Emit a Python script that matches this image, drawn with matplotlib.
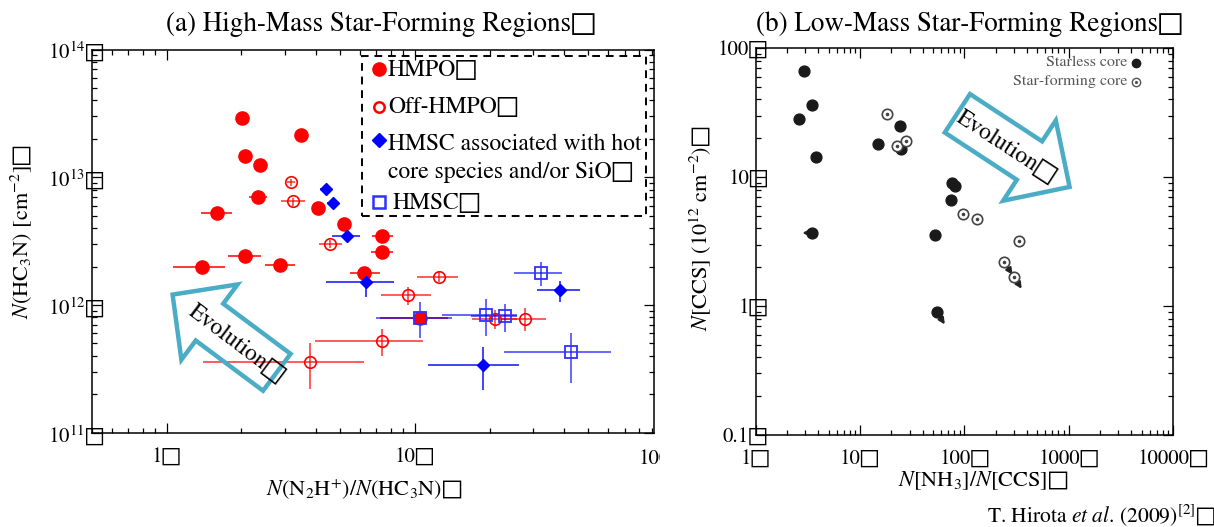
import numpy as np
import matplotlib
matplotlib.use('Agg')
import matplotlib.pyplot as plt
from matplotlib.patches import Polygon, Rectangle
from matplotlib.lines import Line2D
import matplotlib.transforms as mtransforms
from matplotlib.ticker import FixedLocator, FixedFormatter, LogLocator, NullFormatter

plt.rcParams['font.family'] = ['STIXGeneral', 'DejaVu Sans']
plt.rcParams['mathtext.fontset'] = 'stix'

BOX = '\u25a1'

# ---------------- Panel (a) data ----------------
hmpo_x = [2.02, 3.49, 2.07, 2.37, 2.34, 1.60, 4.06, 5.18, 7.39, 7.37, 2.07, 1.39, 2.87, 6.24, 10.5]
hmpo_y = [2.93e13, 2.15e13, 1.46e13, 1.25e13, 6.96e12, 5.25e12, 5.70e12, 4.27e12, 3.48e12, 2.61e12,
          2.42e12, 2.00e12, 2.05e12, 1.77e12, 7.85e11]
hmpo_xlo = [2.02, 3.49, 1.98, 2.37, 2.15, 1.38, 4.06, 5.18, 6.70, 6.63, 1.77, 1.065, 2.48, 5.47, 7.22]
hmpo_xhi = [2.02, 3.49, 2.17, 2.37, 2.54, 1.83, 4.06, 5.18, 8.20, 8.19, 2.39, 1.71, 3.29, 7.23, 13.6]

off_x = [3.16, 3.24, 4.55, 12.5, 9.42, 21.1, 27.8, 7.37, 3.79]
off_y = [9.12e12, 6.47e12, 3.00e12, 1.66e12, 1.19e12, 7.80e11, 7.80e11, 5.25e11, 3.60e11]
off_xlo = [3.05, 2.90, 4.10, 10.2, 7.28, 17.0, 22.4, 3.97, 1.395]
off_xhi = [3.28, 3.60, 5.07, 14.9, 11.6, 25.7, 33.9, 10.8, 6.26]
off_ylo = [8.6e12, 6.0e12, 2.8e12, 1.50e12, 9.97e11, 6.46e11, 6.3e11, 3.98e11, 2.19e11]
off_yhi = [9.6e12, 6.9e12, 3.2e12, 1.85e12, 1.39e12, 9.2e11, 9.4e11, 6.46e11, 5.00e11]

hot_x = [4.39, 4.66, 5.32, 6.36, 38.6, 18.8]
hot_y = [8.04e12, 6.28e12, 3.47e12, 1.50e12, 1.31e12, 3.38e11]
hot_xlo = [4.15, 4.42, 4.62, 4.40, 31.1, 11.3]
hot_xhi = [4.65, 4.95, 6.03, 8.26, 46.3, 26.3]
hot_ylo = [8.04e12, 6.28e12, 3.47e12, 1.15e12, 1.06e12, 2.15e11]
hot_yhi = [8.04e12, 6.28e12, 3.47e12, 1.87e12, 1.54e12, 4.66e11]

hmsc_x = [10.5, 19.4, 23.0, 32.1, 42.5]
hmsc_y = [7.90e11, 8.37e11, 8.15e11, 1.78e12, 4.28e11]
hmsc_xlo = [6.95, 12.9, 16.9, 25.2, 22.9]
hmsc_xhi = [14.1, 25.7, 25.7, 39.1, 62.0]
hmsc_ylo = [5.47e11, 5.70e11, 6.17e11, 1.41e12, 2.46e11]
hmsc_yhi = [1.05e12, 1.11e12, 1.02e12, 2.16e12, 6.05e11]

a_xticks = [1, 10]
a_xticklabels = ['1' + BOX, '10' + BOX]
a_yticks = [1e11, 1e12, 1e13, 1e14]
a_yticklabels = ['$10^{11}$' + BOX, '$10^{12}$' + BOX, '$10^{13}$' + BOX, '$10^{14}$' + BOX]
a_legend = ['HMPO' + BOX, 'Off-HMPO' + BOX, 'HMSC associated with hot\ncore species and/or SiO' + BOX,
            'HMSC' + BOX]

# ---------------- Panel (b) data ----------------
starless_x = [2.88, 3.50, 2.60, 3.82, 14.95, 24.4, 24.9, 76.5, 81.5, 74.1, 52.0, 3.50, 54.5]
starless_y = [66.0, 36.0, 28.0, 14.4, 17.9, 24.9, 16.5, 8.92, 8.6, 6.6, 3.58, 3.69, 0.898]
starform_x = [18.1, 22.7, 27.4, 96.9, 133.0, 332.0, 240.0, 299.0]
starform_y = [31.0, 17.3, 18.9, 5.13, 4.69, 3.19, 2.20, 1.69]
lim_x0 = [3.50, 54.5, 240.0, 299.0]
lim_y0 = [3.69, 0.898, 2.20, 1.69]
lim_x1 = [2.80, 65.0, 290.0, 355.0]
lim_y1 = [3.69, 0.72, 1.75, 1.36]

b_xticks = [1, 10, 100, 1000, 10000]
b_xticklabels = ['1' + BOX, '10' + BOX, '100' + BOX, '1000' + BOX, '10000' + BOX]
b_yticks = [0.1, 1, 10, 100]
b_yticklabels = ['0.1' + BOX, '1' + BOX, '10' + BOX, '100' + BOX]

W, H = 1214, 527
fig = plt.figure(figsize=(W / 100, H / 100), dpi=100)
ident = mtransforms.IdentityTransform()

def ax_rect(x0, x1, ytop, ybot):
    return [x0 / W, 1 - ybot / H, (x1 - x0) / W, (ybot - ytop) / H]

axa = fig.add_axes(ax_rect(92, 654, 49.5, 432.7))
axb = fig.add_axes(ax_rect(755.7, 1172.9, 48.1, 435.0))

RED = '#ff0000'
BLUE = '#0000ff'
TICK_FS = 15

def style(ax):
    ax.set_xscale('log')
    ax.set_yscale('log')
    for s in ax.spines.values():
        s.set_linewidth(1.1)
    ax.tick_params(which='both', direction='in', top=True, right=True, width=0.9)
    ax.tick_params(which='major', length=7, labelsize=TICK_FS)
    ax.tick_params(which='minor', length=3.5)
    ax.tick_params(axis='x', which='major', pad=11)
    ax.tick_params(axis='y', which='major', pad=-9)

# ---- panel (a) ----
style(axa)

def err(x, lo, hi):
    x = np.asarray(x); lo = np.asarray(lo); hi = np.asarray(hi)
    return np.vstack([x - lo, hi - x])

axa.errorbar(hmpo_x, hmpo_y, xerr=err(hmpo_x, hmpo_xlo, hmpo_xhi), fmt='none',
             ecolor=RED, elinewidth=1.3, capsize=0, alpha=0.85, zorder=2)
axa.errorbar(off_x, off_y, xerr=err(off_x, off_xlo, off_xhi), yerr=err(off_y, off_ylo, off_yhi),
             fmt='none', ecolor=RED, elinewidth=1.2, capsize=0, alpha=0.75, zorder=2)
axa.errorbar(hot_x, hot_y, xerr=err(hot_x, hot_xlo, hot_xhi), yerr=err(hot_y, hot_ylo, hot_yhi),
             fmt='none', ecolor=BLUE, elinewidth=1.3, capsize=0, alpha=0.8, zorder=2)
axa.errorbar(hmsc_x, hmsc_y, xerr=err(hmsc_x, hmsc_xlo, hmsc_xhi), yerr=err(hmsc_y, hmsc_ylo, hmsc_yhi),
             fmt='none', ecolor=BLUE, elinewidth=1.2, capsize=0, alpha=0.7, zorder=2)

axa.plot(hmpo_x, hmpo_y, 'o', ms=9.5, mfc=RED, mec=RED, ls='none', zorder=3)
axa.plot(off_x, off_y, 'o', ms=8.3, mfc='none', mec=RED, mew=1.2, ls='none', zorder=3)
axa.plot(hot_x, hot_y, 'D', ms=6.5, mfc=BLUE, mec=BLUE, ls='none', zorder=4)
axa.plot(hmsc_x, hmsc_y, 's', ms=8.5, mfc='none', mec='#3030ff', mew=1.3, ls='none', zorder=5)

axa.set_xlim(0.5, 92)
axa.set_ylim(1e11, 1e14)
axa.xaxis.set_major_locator(FixedLocator(a_xticks))
axa.xaxis.set_major_formatter(FixedFormatter(a_xticklabels))
axa.xaxis.set_minor_locator(LogLocator(base=10, subs=np.arange(2, 10)))
axa.xaxis.set_minor_formatter(NullFormatter())
axa.yaxis.set_major_locator(FixedLocator(a_yticks))
axa.yaxis.set_major_formatter(FixedFormatter(a_yticklabels))
axa.yaxis.set_minor_locator(LogLocator(base=10, subs=np.arange(2, 10)))
axa.yaxis.set_minor_formatter(NullFormatter())

# cut-off '100' label at the right edge of panel (a)
t100 = fig.text(664 / W, 1 - 460 / H, '100' + BOX, fontsize=TICK_FS, ha='center', va='center')
t100.set_clip_box(mtransforms.Bbox([[0, 0], [660, H]]))
t100.set_clip_on(True)

fig.text(381 / W, 1 - 24 / H, '(a) High-Mass Star-Forming Regions' + BOX, fontsize=19.5,
         ha='center', va='center')
fig.text(364 / W, 1 - 490 / H, '$N$(N$_2$H$^{+}$)/$N$(HC$_3$N)' + BOX, fontsize=16,
         ha='center', va='center')
fig.text(21 / W, 1 - 232 / H, '$N$(HC$_3$N) [cm$^{-2}$]' + BOX, fontsize=16, rotation=90,
         ha='center', va='center')

# legend (a)
fig.patches.append(Rectangle((362, H - 215.5), 284, 160, transform=ident, fill=False,
                             ls=(0, (4, 3)), lw=1.4, ec='black'))
leg_marker_y = [69, 106.5, 140, 202]
leg_text_y = [70.5, 107, 144, 203]
leg_markers = [dict(marker='o', ms=9.5, mfc=RED, mec=RED),
               dict(marker='o', ms=7.5, mfc='none', mec=RED, mew=1.8),
               dict(marker='D', ms=7.5, mfc=BLUE, mec=BLUE),
               dict(marker='s', ms=8.0, mfc='none', mec='#3030ff', mew=1.8)]
for my, ty, mk, lab in zip(leg_marker_y, leg_text_y, leg_markers, a_legend):
    fig.lines.append(Line2D([379], [H - my], transform=ident, ls='none', **mk))
    for k, line in enumerate(lab.split('\n')):
        fig.text((388 + (5 if lab.startswith('HMSC' + BOX) else 0)) / W, 1 - (ty + 28.5 * k) / H, line,
                 fontsize=17, ha='left', va='center')

# ---- panel (b) ----
style(axb)
axb.set_xlim(1, 10000)
axb.set_ylim(0.1, 100)
axb.xaxis.set_major_locator(FixedLocator(b_xticks))
axb.xaxis.set_major_formatter(FixedFormatter(b_xticklabels))
axb.xaxis.set_minor_locator(LogLocator(base=10, subs=np.arange(2, 10)))
axb.xaxis.set_minor_formatter(NullFormatter())
axb.yaxis.set_major_locator(FixedLocator(b_yticks))
axb.yaxis.set_major_formatter(FixedFormatter(b_yticklabels))
axb.yaxis.set_minor_locator(LogLocator(base=10, subs=np.arange(2, 10)))
axb.yaxis.set_minor_formatter(NullFormatter())

for x0, y0, x1, y1 in zip(lim_x0, lim_y0, lim_x1, lim_y1):
    axb.annotate('', xy=(x1, y1), xytext=(x0, y0),
                 arrowprops=dict(arrowstyle='-|>', color='#222222', lw=1.6, mutation_scale=9,
                                 shrinkA=0, shrinkB=0), zorder=2)
axb.plot(starless_x, starless_y, 'o', ms=7.8, mfc='#1a1a1a', mec='#1a1a1a', ls='none', zorder=3)
axb.plot(starform_x, starform_y, 'o', ms=7.5, mfc='white', mec='#444444', mew=1.2, ls='none', zorder=3)
axb.plot(starform_x, starform_y, 'o', ms=1.6, mfc='#444444', mec='#444444', ls='none', zorder=4)

fig.text(969.8 / W, 1 - 24 / H, '(b) Low-Mass Star-Forming Regions' + BOX, fontsize=19.5,
         ha='center', va='center')
fig.text(983 / W, 1 - 481 / H, '$N$[NH$_3$]/$N$[CCS]' + BOX, fontsize=16, ha='center', va='center')
fig.text(701 / W, 1 - 228 / H, '$N$[CCS] (10$^{12}$ cm$^{-2}$)' + BOX, fontsize=16, rotation=90,
         ha='center', va='center')
fig.text(1216 / W, 1 - 515 / H, 'T. Hirota $\\mathit{et\\ al}$. (2009)$^{[2]}$' + BOX, fontsize=15.5,
         ha='right', va='center')

# legend (b)
fig.text(1127 / W, 1 - 62.5 / H, 'Starless core', fontsize=11.5, color='#555555', ha='right', va='center')
fig.text(1127 / W, 1 - 81 / H, 'Star-forming core', fontsize=11.5, color='#555555', ha='right', va='center')
fig.lines.append(Line2D([1136], [H - 63.3], transform=ident, marker='o', ms=6, mfc='#1a1a1a',
                        mec='#1a1a1a', ls='none'))
fig.lines.append(Line2D([1136], [H - 81.8], transform=ident, marker='o', ms=6, mfc='white',
                        mec='#555555', mew=1, ls='none'))
fig.lines.append(Line2D([1136], [H - 81.8], transform=ident, marker='o', ms=1.3, mfc='#555555',
                        mec='#555555', ls='none'))

# Evolution arrows (pixel coordinates, y measured from top)
def arrow_poly(tail, tip, hw_shaft, hw_head, head_len):
    tail = np.array(tail, float); tip = np.array(tip, float)
    tail[1] = H - tail[1]; tip[1] = H - tip[1]
    u = (tip - tail) / np.linalg.norm(tip - tail)
    n = np.array([-u[1], u[0]])
    base = tip - u * head_len
    pts = [tail + n * hw_shaft, base + n * hw_shaft, base + n * hw_head, tip,
           base - n * hw_head, base - n * hw_shaft, tail - n * hw_shaft]
    return Polygon(pts, closed=True, transform=ident, fill=False, ec='#4bacc6', lw=3.2,
                   joinstyle='miter')

fig.patches.append(arrow_poly((276.8, 372.3), (172.6, 294.6), 23, 47, 46))
fig.patches.append(arrow_poly((957.4, 113.3), (1069.6, 186.9), 23, 48, 48))
fig.text(236 / W, 1 - 344 / H, 'Evolution' + BOX, fontsize=17, rotation=-37, ha='center', va='center',
         rotation_mode='anchor')
fig.text(1006 / W, 1 - 147 / H, 'Evolution' + BOX, fontsize=17, rotation=-33, ha='center', va='center',
         rotation_mode='anchor')

fig.savefig('out.png', dpi=100)
